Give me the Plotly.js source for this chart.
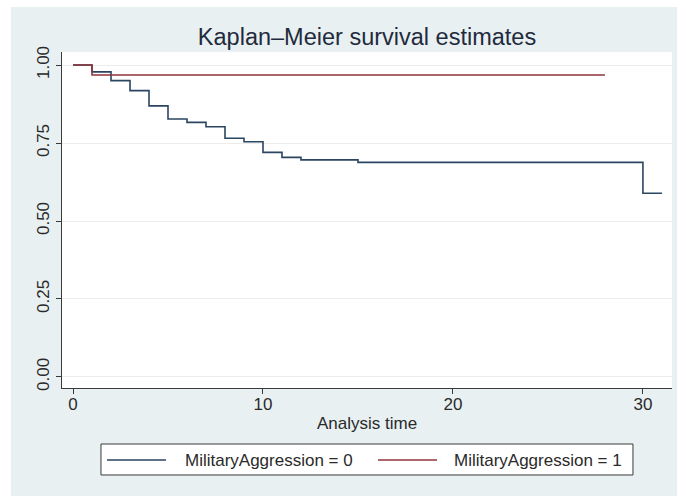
<!DOCTYPE html>
<html>
<head>
<meta charset="utf-8">
<script src="https://cdn.plot.ly/plotly-3.0.1.min.js"></script>
<style>
  html, body { margin: 0; padding: 0; background: #ffffff; width: 677px; height: 496px; overflow: hidden; }
  #chart { position: absolute; left: 11px; top: 7px; width: 666px; height: 489px; }
</style>
</head>
<body>
<div id="chart"></div>
<script>
// Kaplan–Meier step data
const time0 = [0, 1, 2, 3, 4, 5, 6, 7, 8, 9, 10, 11, 12, 15, 30, 31];
const surv0 = [1.0, 0.978, 0.950, 0.918, 0.869, 0.827, 0.816, 0.802, 0.765, 0.754, 0.720, 0.704, 0.696, 0.688, 0.589, 0.589];
const time1 = [0, 1, 28];
const surv1 = [1.0, 0.968, 0.968];
const seriesNames = ["MilitaryAggression = 0", "MilitaryAggression = 1"];
const seriesColors = ["#2a4560", "#90353b"];
const xTicks = [0, 10, 20, 30];
const yTicks = [0, 0.25, 0.5, 0.75, 1.0];

const font = "Liberation Sans, Arial, sans-serif";

const traces = [
  { x: time0, y: surv0, type: "scatter", mode: "lines", line: { shape: "hv", color: seriesColors[0], width: 1.6 }, name: seriesNames[0], hoverinfo: "skip" },
  { x: time1, y: surv1, type: "scatter", mode: "lines", line: { shape: "hv", color: seriesColors[1], width: 1.6 }, name: seriesNames[1], hoverinfo: "skip" }
];

// custom Stata-like legend in paper coordinates
const legY = -0.2143;
const shapes = [
  { type: "rect", xref: "paper", yref: "paper", x0: 0.0639, x1: 0.936, y0: -0.2589, y1: -0.1667, line: { color: "#3a3a3a", width: 1 }, fillcolor: "#ffffff" },
  { type: "line", xref: "paper", yref: "paper", x0: 0.0738, x1: 0.1705, y0: legY, y1: legY, line: { color: seriesColors[0], width: 1.6 } },
  { type: "line", xref: "paper", yref: "paper", x0: 0.518, x1: 0.6148, y0: legY, y1: legY, line: { color: seriesColors[1], width: 1.6 } }
];
const annotations = [
  { xref: "paper", yref: "paper", x: 0.1984, y: legY, xanchor: "left", yanchor: "middle", text: seriesNames[0], showarrow: false, font: { family: font, size: 17, color: "#2a2a2a" } },
  { xref: "paper", yref: "paper", x: 0.6393, y: legY, xanchor: "left", yanchor: "middle", text: seriesNames[1], showarrow: false, font: { family: font, size: 17, color: "#2a2a2a" } },
  { xref: "paper", yref: "paper", x: 0.5, y: -0.1042, xanchor: "center", yanchor: "middle", text: "Analysis time", showarrow: false, font: { family: font, size: 17, color: "#2a2a2a" } }
];

const layout = {
  width: 666, height: 489,
  margin: { l: 51, r: 5, t: 45, b: 108, pad: 0 },
  paper_bgcolor: "#e9f0f2",
  plot_bgcolor: "#ffffff",
  showlegend: false,
  title: { text: "Kaplan–Meier survival estimates", x: 0.5, xref: "paper", xanchor: "center", y: 0.9387, yref: "container", yanchor: "middle", font: { family: font, size: 23.5, color: "#1f2b3d" } },
  xaxis: {
    range: [-0.58, 31.53], tickvals: xTicks, ticktext: xTicks.map(String),
    showgrid: false, zeroline: false, showline: true, linecolor: "#3a3a3a", linewidth: 1,
    ticks: "outside", ticklen: 5, tickcolor: "#3a3a3a", tickwidth: 1, ticklabelstandoff: -4,
    tickfont: { family: font, size: 17, color: "#2a2a2a" }, fixedrange: true
  },
  yaxis: {
    range: [-0.0353, 1.0417], tickvals: yTicks, ticktext: yTicks.map(v => v.toFixed(2)),
    tickangle: -90, showgrid: true, gridcolor: "#ececec", gridwidth: 1, zeroline: false,
    showline: true, linecolor: "#3a3a3a", linewidth: 1,
    ticks: "outside", ticklen: 5, tickcolor: "#3a3a3a", tickwidth: 1,
    tickfont: { family: font, size: 17, color: "#2a2a2a" }, fixedrange: true
  },
  shapes: shapes,
  annotations: annotations
};

Plotly.newPlot("chart", traces, layout, { displayModeBar: false, staticPlot: true });
</script>
</body>
</html>
